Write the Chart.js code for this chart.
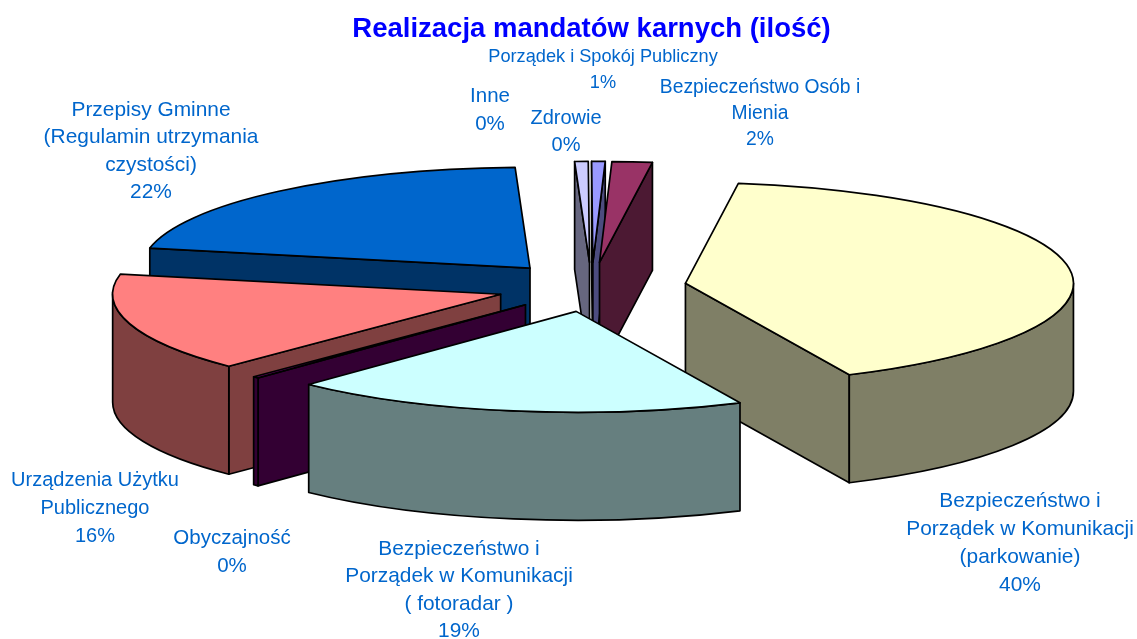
<!DOCTYPE html>
<html>
<head>
<meta charset="utf-8">
<style>html,body{margin:0;padding:0;background:#fff}canvas{display:block}</style>
<script src="https://cdn.jsdelivr.net/npm/chart.js@4"></script>
</head>
<body>
<canvas id="c" width="1137" height="639"></canvas>
<script>
const chartTitle = 'Realizacja mandatów karnych (ilość)';
const categories = ['Inne','Zdrowie','Porządek i Spokój Publiczny','Bezpieczeństwo Osób i Mienia','Bezpieczeństwo i Porządek w Komunikacji (parkowanie)','Bezpieczeństwo i Porządek w Komunikacji ( fotoradar )','Obyczajność','Urządzenia Użytku Publicznego','Przepisy Gminne (Regulamin utrzymania czystości)'];
const values = [0, 0.56, 0.56, 1.67, 40.9, 19.05, 0.25, 15.85, 21.2];
const printedPercents = ['0%','0%','1%','2%','40%','19%','0%','16%','22%'];
const sliceColors = ['#000080','#CCCCFF','#9999FF','#993366','#FFFFCC','#CCFFFF','#660066','#FF8080','#0066CC'];
const labelLines = [
  ['Inne'],['Zdrowie'],['Porządek i Spokój Publiczny'],['Bezpieczeństwo Osób i','Mienia'],
  ['Bezpieczeństwo i','Porządek w Komunikacji','(parkowanie)'],['Bezpieczeństwo i','Porządek w Komunikacji','( fotoradar )'],
  ['Obyczajność'],['Urządzenia Użytku','Publicznego'],['Przepisy Gminne','(Regulamin utrzymania','czystości)']
];
const labelCenterX = [490,566,603,760,1020,459,232,95,151];
const labelFirstY = [96,118,57,88,501,549,538,480,110];
const labelStep = [28,27,26,26,28,27.5,28,28,27.5];
const labelFontPx = [20.5,20,18.2,19.3,20.9,20.9,20.5,20,20.9];

const TILT = 0.26, DEPTH = 108, PIE_CY = 287, TEXT = '#0066CC';
const darken = hex => {
  const n = parseInt(hex.slice(1),16);
  return `rgb(${(n>>16&255)>>1},${(n>>8&255)>>1},${(n&255)>>1})`;
};
const pie3d = {
  id:'pie3d',
  beforeDatasetDraw(chart){
    const ctx = chart.ctx;
    const arcs = chart.getDatasetMeta(0).data.map((a,i)=>{
      const mid=(a.startAngle+a.endAngle)/2, d=a.options.offset;
      return {s:a.startAngle,e:a.endAngle,r:a.outerRadius,i,
        ax:a.x+Math.cos(mid)*d, ay:PIE_CY+Math.sin(mid)*d*TILT};
    }).filter(o=>o.e>o.s).sort((p,q)=>p.ay-q.ay);
    ctx.save();
    ctx.lineWidth=1.7; ctx.lineJoin='round'; ctx.strokeStyle='#000';
    const rim=(o,t)=>[o.ax+Math.cos(t)*o.r,o.ay+Math.sin(t)*o.r*TILT];
    const finish=(fill)=>{ctx.closePath();ctx.fillStyle=fill;ctx.fill();ctx.stroke();};
    for(const o of arcs){
      const col=sliceColors[o.i], dark=darken(col);
      const face=t=>{
        const [x,y]=rim(o,t);
        ctx.beginPath();ctx.moveTo(o.ax,o.ay);ctx.lineTo(x,y);ctx.lineTo(x,y+DEPTH);ctx.lineTo(o.ax,o.ay+DEPTH);finish(dark);
      };
      if(Math.cos(o.s)<0) face(o.s);
      if(Math.cos(o.e)>0) face(o.e);
      for(let k=-2;k<=2;k++){
        const a=Math.max(o.s,2*Math.PI*k), b=Math.min(o.e,Math.PI+2*Math.PI*k);
        if(b<=a) continue;
        ctx.beginPath();
        ctx.ellipse(o.ax,o.ay,o.r,o.r*TILT,0,a,b);
        ctx.ellipse(o.ax,o.ay+DEPTH,o.r,o.r*TILT,0,b,a,true);
        finish(dark);
      }
      ctx.beginPath();
      ctx.moveTo(o.ax,o.ay);
      ctx.ellipse(o.ax,o.ay,o.r,o.r*TILT,0,o.s,o.e);
      finish(col);
    }
    ctx.restore();
    return false;
  },
  afterDatasetsDraw(chart){
    const ctx=chart.ctx;
    ctx.save();
    ctx.fillStyle=TEXT; ctx.textAlign='center'; ctx.textBaseline='middle';
    labelLines.forEach((lines,i)=>{
      ctx.font=labelFontPx[i]+'px "Liberation Sans"';
      [...lines,printedPercents[i]].forEach((t,j)=>ctx.fillText(t,labelCenterX[i],labelFirstY[i]+j*labelStep[i]));
    });
    ctx.restore();
  }
};
new Chart(document.getElementById('c'),{
  type:'pie',
  data:{labels:categories,datasets:[{data:values,backgroundColor:sliceColors,offset:95,radius:388,borderColor:'#000',borderWidth:0}]},
  options:{
    responsive:false,animation:false,events:[],
    rotation:-2.2,
    layout:{padding:{left:46,top:13}},
    plugins:{
      legend:{display:false},tooltip:{enabled:false},
      title:{display:true,text:chartTitle,color:'#0000FF',fullSize:false,padding:{top:0,bottom:0},
        font:{family:'"Liberation Sans"',size:27.5,weight:'bold'}}
    }
  },
  plugins:[pie3d]
});
</script>
</body>
</html>
